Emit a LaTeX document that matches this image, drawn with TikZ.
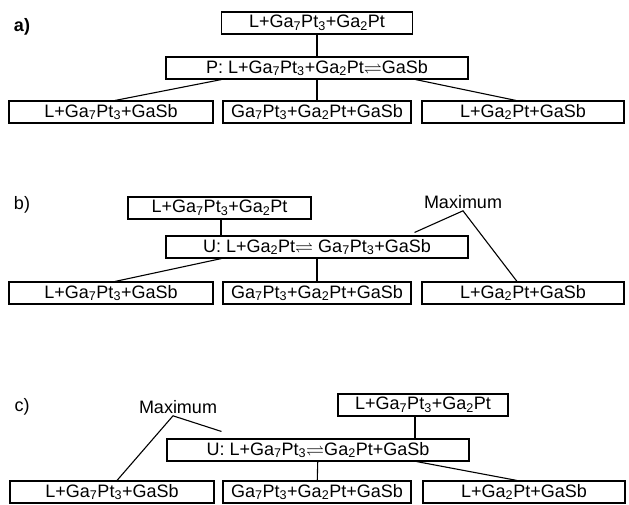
\documentclass[tikz,border=0pt]{standalone}
\usepackage{amsmath,amssymb}
\usepackage{fontspec}
\setmainfont{Liberation Sans}
\usetikzlibrary{positioning,calc}
\newcommand{\GaSeven}{Ga\textsubscript{7}Pt\textsubscript{3}}
\newcommand{\GaTwo}{Ga\textsubscript{2}Pt}
\newcommand{\eqarr}{$\boldsymbol{\rightleftharpoons}$}

\begin{document}
\begin{tikzpicture}[x=1pt, y=-1pt,
    box/.style={draw, line width=1.1pt, minimum height=22pt, inner sep=0pt, align=center, font=\fontsize{18}{21}\selectfont},
    tag/.style={inner sep=0pt, font=\fontsize{18}{21}\selectfont},
    note/.style={inner sep=2pt, font=\fontsize{18}{21}\selectfont},
    ln/.style={line width=1.1pt}
]
\useasboundingbox (0,0) rectangle (629,504);

% a)
\node[tag, font=\fontsize{18}{21}\selectfont\bfseries] (la) at (22,27) {a)};
\node[box, minimum width=191pt] (topA) at (317,23) {L+\GaSeven+\GaTwo};
\node[box, minimum width=302pt] (pA) at (317,68) {P: L+\GaSeven+\GaTwo\eqarr GaSb};
\node[box, minimum width=204pt] (l1) at (111,112) {L+\GaSeven+GaSb};
\node[box, minimum width=188pt] (m1) at (317,112) {\GaSeven+\GaTwo+GaSb};
\node[box, minimum width=202pt] (r1) at (523,112) {L+\GaTwo+GaSb};

\draw[ln] (topA) -- (pA);
\draw[ln] ([xshift=56pt]pA.south west) -- ([xshift=4pt]l1.north);
\draw[ln] (pA) -- (m1);
\draw[ln] ([xshift=-53pt]pA.south east) -- ([xshift=-7pt]r1.north);

% b)
\node[tag] (lb) at (22,205) {b)};
\node[box, minimum width=183pt] (topB) at (219.5,208) {L+\GaSeven+\GaTwo};
\node[note] (maxB) at (463,202) {Maximum};
\node[box, minimum width=302pt] (uB) at (317,247) {U: L+\GaTwo\eqarr{} \GaSeven+GaSb};
\node[box, minimum width=204pt] (l2) at (111,293) {L+\GaSeven+GaSb};
\node[box, minimum width=188pt] (m2) at (317,293) {\GaSeven+\GaTwo+GaSb};
\node[box, minimum width=202pt] (r2) at (523,293) {L+\GaTwo+GaSb};

\draw[ln] ([xshift=1.5pt]topB.south) -- ([xshift=1.5pt]topB.south |- uB.north);
\draw[ln] ([xshift=56pt]uB.south west) -- ([xshift=4pt]l2.north);
\draw[ln] (uB) -- (m2);
\draw[ln] ([xshift=-54pt,yshift=3pt]uB.north east) -- (maxB.south) -- ([xshift=-6pt]r2.north);

% c)
\node[tag] (lc) at (22,407) {c)};
\node[note] (maxC) at (178,407) {Maximum};
\node[box, minimum width=170pt] (topC) at (423,405) {L+\GaSeven+\GaTwo};
\node[box, minimum width=302pt] (uC) at (318,450) {U: L+\GaSeven\eqarr\GaTwo+GaSb};
\node[box, minimum width=204pt] (l3) at (112,492) {L+\GaSeven+GaSb};
\node[box, minimum width=188pt] (m3) at (317,492) {\GaSeven+\GaTwo+GaSb};
\node[box, minimum width=202pt] (r3) at (524,492) {L+\GaTwo+GaSb};

\draw[ln] ([xshift=-8pt]topC.south) -- ([xshift=-8pt]topC.south |- uC.north);
\draw[ln] (uC) -- (m3);
\draw[ln] ([xshift=-53pt]uC.south east) -- ([xshift=-7pt]r3.north);
\draw[ln] ([xshift=55pt,yshift=7pt]uC.north west) -- ([xshift=-5pt]maxC.south) -- ([xshift=5pt]l3.north);
\end{tikzpicture}
\end{document}
